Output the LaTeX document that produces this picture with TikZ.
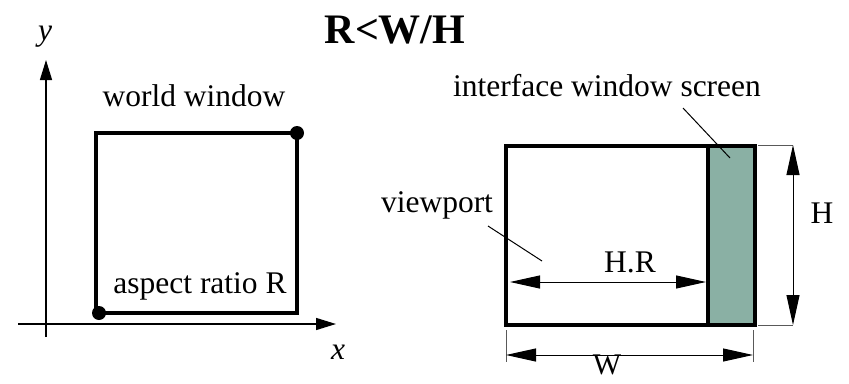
\documentclass[tikz,border=0pt]{standalone}
\usepackage{fontspec}
\setmainfont{Liberation Serif}
\usetikzlibrary{arrows.meta}
\definecolor{screengreen}{RGB}{138,176,164}
\begin{document}
\begin{tikzpicture}[x=1pt,y=-1pt,
  lbl/.style={font=\fontsize{31.5}{36}\selectfont, inner sep=0pt},
  thickbox/.style={draw=black, line width=3.5pt},
  thin/.style={line width=1pt},
  axis/.style={line width=1.4pt, -{Triangle[length=20pt,width=12pt]}},
  dim/.style={line width=1pt, {Triangle[length=30pt,width=13pt]}-{Triangle[length=30pt,width=13pt]}},
  dotst/.style={circle, fill=black, inner sep=0pt, minimum size=14pt}]
\useasboundingbox (0,0) rectangle (849,383);
% title
\node[inner sep=0pt, font=\fontsize{42}{48}\selectfont\bfseries] (title) at (395,30) {R<W/H};
% axes
\coordinate (yb) at (46,337);
\coordinate (yt) at (46,60);
\coordinate (xl) at (18,324);
\coordinate (xr) at (336,324);
\draw[axis] (yb) -- (yt);
\draw[axis] (xl) -- (xr);
\node[lbl, font=\fontsize{31.5}{36}\selectfont\itshape] (ylab) at (45,37) {y};
\node[lbl, font=\fontsize{31.5}{36}\selectfont\itshape] (xlab) at (338,352) {x};
% world window
\draw[thickbox] (96,133) rectangle (297,313);
\node[dotst] (d1) at (297,133) {};
\node[dotst] (d2) at (99,313) {};
\node[lbl] (ww) at (194,96) {world window};
\node[lbl] (ar) at (200,286) {aspect ratio R};
% screen
\fill[screengreen] (708,146) rectangle (755,325);
\draw[thickbox] (506,146) rectangle (755,325);
\draw[thickbox] (708,146) -- (708,325);
% dimension H
\coordinate (h1a) at (758,145);
\coordinate (h1b) at (793,145);
\coordinate (h2a) at (758,325);
\coordinate (h2b) at (793,325);
\draw[thin, gray!70!black] (h1a) -- (h1b);
\draw[thin, gray!70!black] (h2a) -- (h2b);
\draw[dim] (h1b) -- (h2b);
\node[lbl] (Hlab) at (822,213) {H};
% dimension W
\coordinate (w1a) at (506,330);
\coordinate (w1b) at (506,362);
\coordinate (w2a) at (753,330);
\coordinate (w2b) at (753,362);
\draw[thin, gray!70!black] (w1a) -- (w1b);
\draw[thin, gray!70!black] (w2a) -- (w2b);
\coordinate (wl) at (506,355);
\coordinate (wr) at (753,355);
\draw[dim] (wl) -- (wr);
\node[lbl, font=\fontsize{30}{34}\selectfont] (Wlab) at (607,365) {W};
% H.R
\coordinate (hrl) at (510,282);
\coordinate (hrr) at (706,282);
\draw[dim] (hrl) -- (hrr);
\node[lbl] (HRlab) at (630,262) {H.R};
% labels with leaders
\node[lbl] (vp) at (437,205) {viewport};
\coordinate (vpa) at (488,226);
\coordinate (vpb) at (542,261);
\draw[thin] (vpa) -- (vpb);
\node[lbl] (iws) at (607,86) {interface window screen};
\coordinate (iwa) at (683,108);
\coordinate (iwb) at (730,158);
\draw[thin] (iwa) -- (iwb);
\end{tikzpicture}
\end{document}
